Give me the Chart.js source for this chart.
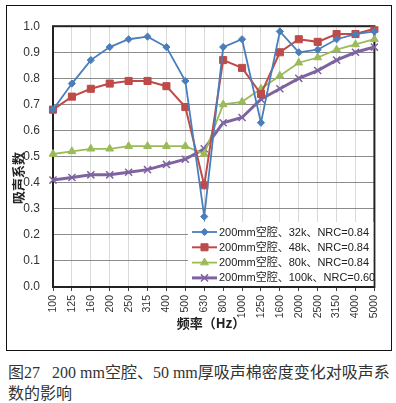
<!DOCTYPE html>
<html>
<head>
<meta charset="utf-8">
<script src="https://cdn.jsdelivr.net/npm/chart.js@4/dist/chart.umd.min.js"></script>
<style>
  html, body { margin: 0; padding: 0; background: #fff; }
  body { width: 396px; height: 403px; position: relative; overflow: hidden; }
  #box { position: absolute; left: 6px; top: 5px; width: 384px; height: 344px; border: 1px solid #111; }
  #caption {
    position: absolute; left: 8px; top: 362px; width: 386px;
    font-family: "Liberation Serif", "Noto Sans CJK SC", serif;
    font-size: 16px; line-height: 21px; color: #333;
  }
  #caption .gap { display: inline-block; width: 12px; }
</style>
</head>
<body>
<div id="box"><canvas id="absorbChart" width="384" height="344"></canvas></div>
<div id="caption">图27<span class="gap"></span>200 mm空腔、50 mm厚吸声棉密度变化对吸声系<br>数的影响</div>
<script>
// 频率 (Hz)
const categories = ['100', '125', '160', '200', '250', '315', '400', '500', '630',
  '800', '1000', '1250', '1600', '2000', '2500', '3150', '4000', '5000'];

// 吸声系数
const density32k = [0.68, 0.78, 0.87, 0.92, 0.95, 0.96, 0.92, 0.79, 0.27,
  0.92, 0.95, 0.63, 0.98, 0.90, 0.91, 0.95, 0.97, 0.98];
const density48k = [0.68, 0.73, 0.76, 0.78, 0.79, 0.79, 0.77, 0.69, 0.39,
  0.87, 0.84, 0.74, 0.90, 0.95, 0.94, 0.97, 0.97, 0.99];
const density80k = [0.51, 0.52, 0.53, 0.53, 0.54, 0.54, 0.54, 0.54, 0.51,
  0.70, 0.71, 0.76, 0.81, 0.86, 0.88, 0.91, 0.93, 0.95];
const density100k = [0.41, 0.42, 0.43, 0.43, 0.44, 0.45, 0.47, 0.49, 0.53,
  0.63, 0.65, 0.72, 0.76, 0.80, 0.83, 0.87, 0.90, 0.92];

const seriesLabels = [
  '200mm空腔、32k、NRC=0.84',
  '200mm空腔、48k、NRC=0.84',
  '200mm空腔、80k、NRC=0.84',
  '200mm空腔、100k、NRC=0.60'
];

const yTicks = [0, 0.1, 0.2, 0.3, 0.4, 0.5, 0.6, 0.7, 0.8, 0.9, 1.0];

const colors = { blue: '#4A7EBB', red: '#BE4B48', green: '#9BBB59', purple: '#7F63A1' };
const latin = '"Liberation Sans", "Noto Sans CJK SC", sans-serif';
const cjk = '"Noto Sans CJK SC", sans-serif';

// 边框 + 坐标轴标题
const framePlugin = {
  id: 'frame',
  beforeDatasetsDraw(chart) {
    const { ctx, chartArea: a } = chart;
    ctx.save();
    ctx.strokeStyle = '#222';
    ctx.lineWidth = 2;
    ctx.strokeRect(a.left, a.top, a.right - a.left, a.bottom - a.top);
    ctx.restore();
  },
  afterDraw(chart) {
    const { ctx } = chart;
    ctx.save();
    ctx.fillStyle = '#222';
    ctx.font = 'bold 13px ' + cjk;
    ctx.textAlign = 'center';
    ctx.textBaseline = 'middle';
    ctx.fillText('频率（Hz）', 204, 317);
    ctx.translate(11, 172);
    ctx.rotate(-Math.PI / 2);
    ctx.fillText('吸声系数', 0, 0);
    ctx.restore();
  }
};

// 图例 (放在绘图区内右下)
const legendPlugin = {
  id: 'insideLegend',
  afterDatasetsDraw(chart) {
    const { ctx, chartArea: a } = chart;
    const left = 181, top = 216;
    ctx.save();
    ctx.fillStyle = '#fff';
    ctx.fillRect(left, top, a.right - left - 1, a.bottom - top - 1);
    ctx.font = '11px ' + latin;
    ctx.textBaseline = 'middle';
    chart.data.datasets.forEach((ds, i) => {
      const y = top + 10 + i * 15.3;
      ctx.strokeStyle = ds.borderColor;
      ctx.lineWidth = ds.borderWidth;
      ctx.beginPath();
      ctx.moveTo(left + 4, y);
      ctx.lineTo(left + 29, y);
      ctx.stroke();
      ctx.fillStyle = ds.pointBackgroundColor;
      ctx.strokeStyle = ds.pointBorderColor;
      ctx.lineWidth = ds.pointBorderWidth;
      Chart.helpers.drawPoint(ctx, {
        pointStyle: ds.pointStyle,
        radius: ds.pointRadius,
        rotation: 0,
        borderWidth: ds.pointBorderWidth
      }, left + 16.5, y);
      ctx.fillStyle = '#222';
      ctx.fillText(seriesLabels[i], left + 31, y + 0.5);
    });
    ctx.restore();
  }
};

function series(label, data, color, style, radius, width) {
  return {
    label, data,
    borderColor: color, backgroundColor: color,
    pointBackgroundColor: color, pointBorderColor: color,
    borderWidth: width, pointStyle: style, pointRadius: radius,
    pointBorderWidth: style === 'crossRot' ? 1.5 : 1,
    tension: 0
  };
}

new Chart(document.getElementById('absorbChart'), {
  type: 'line',
  data: {
    labels: categories,
    datasets: [
      series(seriesLabels[0], density32k, colors.blue, 'rectRot', 3.6, 1.8),
      series(seriesLabels[1], density48k, colors.red, 'rect', 5, 2),
      series(seriesLabels[2], density80k, colors.green, 'triangle', 4.5, 1.8),
      series(seriesLabels[3], density100k, colors.purple, 'crossRot', 5, 3)
    ]
  },
  options: {
    responsive: false,
    animation: false,
    devicePixelRatio: 1,
    layout: { padding: { top: 20, right: 7, left: 0, bottom: 0 } },
    plugins: { legend: { display: false }, tooltip: { enabled: false } },
    scales: {
      x: {
        offset: false,
        afterFit: s => { s.height = 63; },
        grid: { color: '#D9D9D9', tickColor: '#444', tickLength: 4 },
        border: { display: false },
        ticks: {
          autoSkip: false, minRotation: 90, maxRotation: 90, padding: 4,
          color: '#333', font: { family: latin, size: 10.5 }
        }
      },
      y: {
        min: 0, max: 1,
        afterFit: s => { s.width = 46; },
        afterBuildTicks: s => { s.ticks = yTicks.map(v => ({ value: v })); },
        grid: { color: '#8C8C8C', drawTicks: false },
        border: { display: false },
        ticks: {
          padding: 13, color: '#333',
          font: { family: latin, size: 12 },
          callback: v => v.toFixed(1)
        }
      }
    }
  },
  plugins: [framePlugin, legendPlugin]
});
</script>
</body>
</html>
